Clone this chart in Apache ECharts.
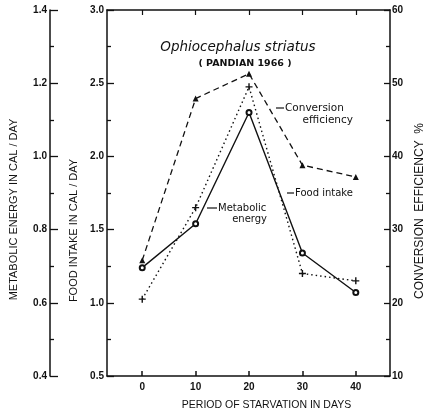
<!DOCTYPE html>
<html><head><meta charset="utf-8">
<script src="https://cdn.jsdelivr.net/npm/echarts@6/dist/echarts.min.js"></script>
<style>html,body{margin:0;padding:0;background:#fff}#c{width:434px;height:416px}</style>
</head><body><div id="c"></div>
<script>
const days = [0, 10, 20, 30, 40];
const conversionEfficiency = [25.8, 47.9, 51.3, 38.8, 37.2];
const foodIntake = [1.24, 1.54, 2.30, 1.34, 1.07];
const metabolicEnergy = [0.61, 0.86, 1.19, 0.68, 0.66];
const xTicks = [0, 10, 20, 30, 40];
const titleText = 'Ophiocephalus striatus';
const subTitleText = '( PANDIAN 1966 )';

const INK = '#111';
const TICKFONT = {fontFamily: 'Liberation Sans', fontWeight: 'bold', fontSize: 10, color: INK};
const NAMEFONT = {fontFamily: 'Liberation Sans', fontSize: 11, color: INK};
const pairs = arr => days.map((d, i) => [d, arr[i]]);

const chart = echarts.init(document.getElementById('c'), null, {renderer: 'canvas'});
const lineAxis = {show: true, onZero: false, lineStyle: {color: INK, width: 1.5}};

chart.setOption({
  animation: false,
  backgroundColor: '#fff',
  title: [
    {text: titleText, left: 233, top: 35, textAlign: 'center',
     textStyle: {fontFamily: 'DejaVu Sans', fontStyle: 'italic', fontWeight: 'normal', fontSize: 13.5, color: INK}},
    {text: subTitleText, left: 240, top: 54, textAlign: 'center',
     textStyle: {fontFamily: 'DejaVu Sans', fontWeight: 'bold', fontSize: 9.5, color: INK}}
  ],
  grid: {left: 107, right: 31, top: 10, bottom: 39, containLabel: false},
  xAxis: [
    {type: 'value', position: 'bottom', min: -6.6, max: 46.4,
     axisLine: lineAxis, splitLine: {show: false},
     axisTick: {show: true, inside: true, length: 5, customValues: xTicks, lineStyle: {color: INK, width: 1.5}},
     axisLabel: {show: true, customValues: xTicks, margin: 6, ...TICKFONT},
     name: 'PERIOD OF STARVATION IN DAYS', nameLocation: 'middle', nameGap: 24,
     nameTextStyle: {...NAMEFONT, fontSize: 10.5, padding: [0, 0, 0, 36]}},
    {type: 'value', position: 'top', min: -6.6, max: 46.4,
     axisLine: lineAxis, splitLine: {show: false},
     axisTick: {show: true, inside: true, length: 5, customValues: xTicks, lineStyle: {color: INK, width: 1.2}},
     axisLabel: {show: false}}
  ],
  yAxis: [
    {type: 'value', position: 'left', offset: 0, min: 0.5, max: 3.0, interval: 0.5,
     axisLine: lineAxis, splitLine: {show: false},
     axisTick: {show: true, inside: true, length: 7, lineStyle: {color: INK, width: 1.3}},
     minorTick: {show: true, splitNumber: 2, length: 4, lineStyle: {color: INK, width: 1.3}},
     axisLabel: {margin: 3, formatter: v => v.toFixed(1), ...TICKFONT},
     name: 'FOOD INTAKE IN CAL / DAY', nameLocation: 'middle', nameRotate: 90, nameGap: 22,
     nameTextStyle: {...NAMEFONT, padding: [0, 75, 0, 0]}},
    {type: 'value', position: 'left', offset: 57, min: 0.4, max: 1.4, interval: 0.2,
     axisLine: lineAxis, splitLine: {show: false},
     axisTick: {show: true, inside: true, length: 8, lineStyle: {color: INK, width: 1.3}},
     minorTick: {show: true, splitNumber: 2, length: 4, lineStyle: {color: INK, width: 1.3}},
     axisLabel: {margin: 3, formatter: v => v.toFixed(1), ...TICKFONT},
     name: 'METABOLIC ENERGY IN CAL / DAY', nameLocation: 'middle', nameRotate: 90, nameGap: 31,
     nameTextStyle: {...NAMEFONT, padding: [0, 33, 0, 0]}},
    {type: 'value', position: 'right', offset: 0, min: 10, max: 60, interval: 10,
     axisLine: lineAxis, splitLine: {show: false},
     axisTick: {show: true, inside: true, length: 6, lineStyle: {color: INK, width: 1.3}},
     minorTick: {show: true, splitNumber: 2, length: 4, lineStyle: {color: INK, width: 1.3}},
     axisLabel: {margin: 2, ...TICKFONT},
     name: 'CONVERSION  EFFICIENCY  %', nameLocation: 'middle', nameRotate: 90, nameGap: 21,
     nameTextStyle: {...NAMEFONT, fontSize: 12, padding: [0, 36, 0, 0]}}
  ],
  series: [
    {name: 'Conversion efficiency', type: 'line', xAxisIndex: 0, yAxisIndex: 2,
     data: pairs(conversionEfficiency), symbol: 'triangle', symbolSize: 6,
     itemStyle: {color: INK}, lineStyle: {color: INK, width: 1.3, type: [6, 4]}},
    {name: 'Food intake', type: 'line', xAxisIndex: 0, yAxisIndex: 0,
     data: pairs(foodIntake), symbol: 'emptyCircle', symbolSize: 5,
     itemStyle: {color: INK, borderColor: INK, borderWidth: 1.2}, lineStyle: {color: INK, width: 1.4}},
    {name: 'Metabolic energy', type: 'line', xAxisIndex: 0, yAxisIndex: 1,
     data: pairs(metabolicEnergy), symbol: 'path://M4,0H6V4H10V6H6V10H4V6H0V4H4Z', symbolSize: 7,
     itemStyle: {color: INK}, lineStyle: {color: INK, width: 1.4, type: [1.5, 3]}}
  ],
  graphic: [
    {type: 'line', shape: {x1: 276, y1: 108, x2: 284, y2: 108}, style: {stroke: INK, lineWidth: 1.2}},
    {type: 'text', x: 285, y: 108, style: {text: 'Conversion', fontFamily: 'DejaVu Sans', fontSize: 10.5, fill: INK, verticalAlign: 'middle', align: 'left'}},
    {type: 'text', x: 353, y: 120, style: {text: 'efficiency', fontFamily: 'DejaVu Sans', fontSize: 10.5, fill: INK, verticalAlign: 'middle', align: 'right'}},
    {type: 'line', shape: {x1: 287, y1: 193, x2: 294, y2: 193}, style: {stroke: INK, lineWidth: 1.2}},
    {type: 'text', x: 295, y: 193, style: {text: 'Food intake', fontFamily: 'DejaVu Sans', fontSize: 10, fill: INK, verticalAlign: 'middle', align: 'left'}},
    {type: 'line', shape: {x1: 207, y1: 208, x2: 217, y2: 208}, style: {stroke: INK, lineWidth: 1.2}},
    {type: 'text', x: 218, y: 208, style: {text: 'Metabolic', fontFamily: 'DejaVu Sans', fontSize: 10, fill: INK, verticalAlign: 'middle', align: 'left'}},
    {type: 'text', x: 267, y: 219, style: {text: 'energy', fontFamily: 'DejaVu Sans', fontSize: 10, fill: INK, verticalAlign: 'middle', align: 'right'}}
  ]
});
</script></body></html>
